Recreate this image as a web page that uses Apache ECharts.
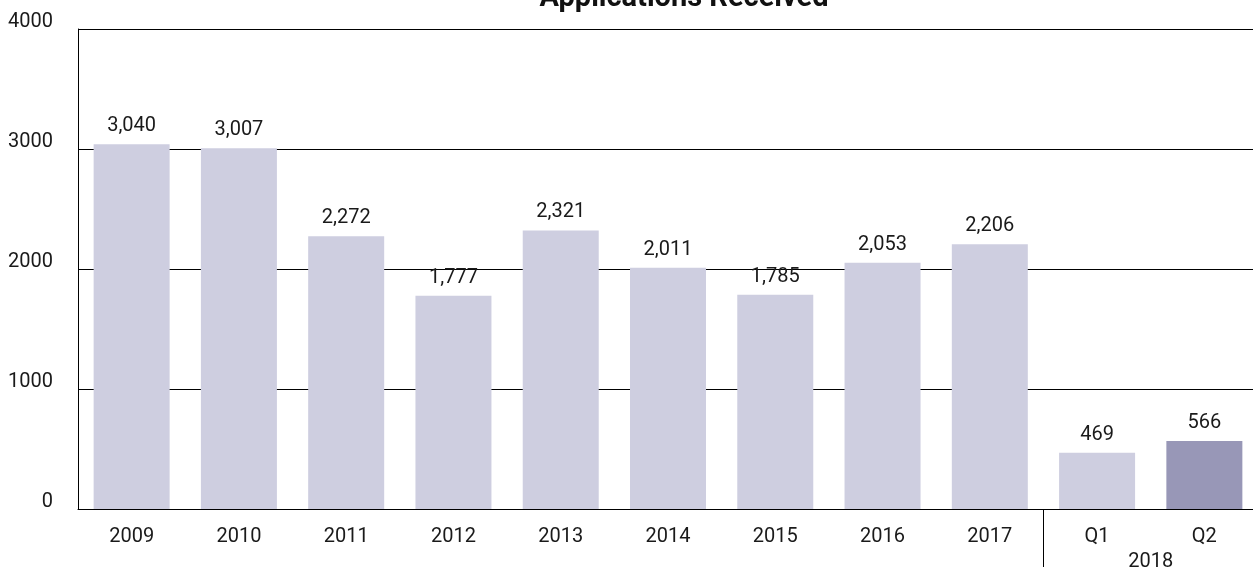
<!DOCTYPE html>
<html>
<head>
<meta charset="utf-8">
<script src="https://cdn.jsdelivr.net/npm/echarts@6/dist/echarts.min.js"></script>
<style>
html,body{margin:0;padding:0;background:#fff;}
#chartsBox{width:1253px;height:567px;}
</style>
</head>
<body>
<div id="chartsBox"></div>
<script>
var categories=['2009','2010','2011','2012','2013','2014','2015','2016','2017','Q1','Q2'];
var applications=[3040,3007,2272,1777,2321,2011,1785,2053,2206,469,566];
var groupLabels=['','','','','','','','','','','2018',''];
var yTicks={min:0,max:4000,interval:1000};
var lightColor='#cecee0';
var darkColor='#9897b7';

var chartsBox=echarts.init(document.getElementById('chartsBox'));
var barData=[];
for(var i=0;i<applications.length;i++){
	barData.push({
		value:applications[i],
		itemStyle:{color:i==applications.length-1?darkColor:lightColor}
	});
}
var option={
	animation:false,
	textStyle:{fontFamily:'Roboto'},
	title:{
		text:'Applications Received',
		left:679,
		top:-21,
		textAlign:'center',
		textStyle:{fontFamily:'Roboto',fontWeight:'bold',fontSize:29,color:'#111'}
	},
	grid:{left:78,width:1180,top:29,bottom:58,outerBoundsMode:'none'},
	xAxis:[{
		type:'category',
		data:categories,
		axisLine:{show:true,lineStyle:{color:'#000',width:1}},
		axisTick:{show:false},
		axisLabel:{color:'#1a1a1a',fontSize:20,margin:18,interval:0}
	},{
		type:'category',
		position:'bottom',
		boundaryGap:false,
		data:groupLabels,
		axisLine:{show:false},
		axisTick:{
			show:true,
			length:60,
			interval:function(index){return index==9;},
			lineStyle:{color:'#000',width:1}
		},
		axisLabel:{color:'#1a1a1a',fontSize:20,margin:43,interval:0}
	}],
	yAxis:{
		type:'value',
		min:yTicks.min,
		max:yTicks.max,
		interval:yTicks.interval,
		axisLine:{show:true,lineStyle:{color:'#000',width:1}},
		axisTick:{show:false},
		splitLine:{show:true,lineStyle:{color:'#000',width:1}},
		axisLabel:{
			color:'#1a1a1a',fontSize:20,margin:25,verticalAlign:'bottom',lineHeight:15,
			formatter:function(v){return String(v);}
		}
	},
	series:[{
		name:'Applications',
		type:'bar',
		barWidth:76,
		data:barData,
		label:{
			show:true,
			position:'top',
			distance:8,
			color:'#1a1a1a',
			fontSize:20,
			formatter:function(p){return p.value.toLocaleString('en-US');}
		}
	}]
};
chartsBox.setOption(option);
</script>
</body>
</html>
